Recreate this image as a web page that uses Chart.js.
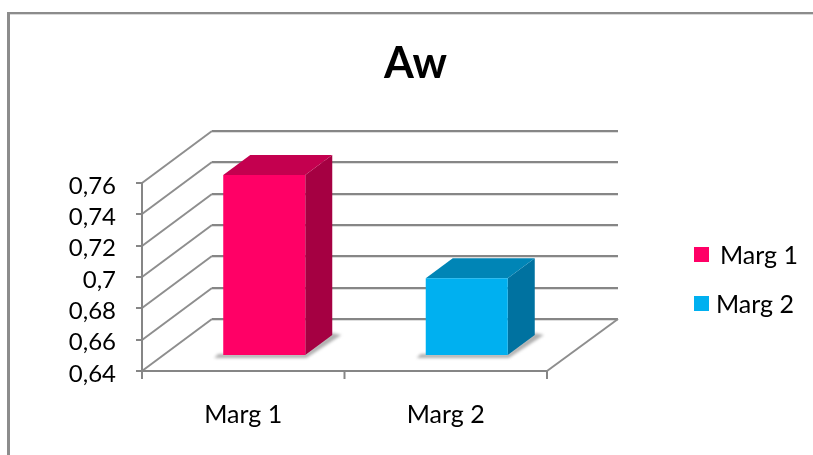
<!DOCTYPE html>
<html>
<head>
<meta charset="utf-8">
<title>Aw</title>
<script src="https://cdn.jsdelivr.net/npm/chart.js@4"></script>
<style>
    html, body { margin: 0; padding: 0; background: #fff; }
    #frame { position: absolute; left: 7px; top: 12px; width: 806px; height: 443px; box-sizing: border-box;
             border-left: 3px solid #8c8c8c; border-top: 2px solid #8c8c8c; box-shadow: inset 0 1px 0 #d9d9d9; }
    #myChart { position: absolute; left: 0; top: 0; }
</style>
</head>
<body>
<div id="frame"></div>
<canvas id="myChart" width="813" height="455"></canvas>
<script>
var categories = ["Marg 1", "Marg 2"];
var values = [0.755, 0.689];
var yTickLabels = ["0,64", "0,66", "0,68", "0,7", "0,72", "0,74", "0,76"];
var frontColors = ["#FF0066", "#00B0F0"];
var sideColors = ["#A50042", "#0072A0"];
var topColors = ["#C4004F", "#0085B6"];
var titleText = "Aw";

var fontName = "Lato";
var lineColor = "#868686";

// how far the back wall sits from the front plane, and the bars inside that depth
var wallDx = 70, wallDy = -52;
var barDx = 21, barDy = -16;
var depthDx = 27, depthDy = -20;

function line(ctx, x1, y1, x2, y2, color, width) {
    ctx.strokeStyle = color;
    ctx.lineWidth = width;
    ctx.beginPath();
    ctx.moveTo(x1, y1);
    ctx.lineTo(x2, y2);
    ctx.stroke();
}

function poly(ctx, points, color) {
    ctx.fillStyle = color;
    ctx.beginPath();
    ctx.moveTo(points[0][0], points[0][1]);
    for (var i = 1; i < points.length; i++) {
        ctx.lineTo(points[i][0], points[i][1]);
    }
    ctx.closePath();
    ctx.fill();
}

var box3d = {
    id: "box3d",
    afterLayout: function(chart) {
        // title is centred over the whole canvas, not over the plot
        chart.titleBlock.left = 18;
        chart.titleBlock.right = chart.width;
        // digits sit a little high in this font, nudge the value labels down
        var yScale = chart.scales.y;
        if (!yScale.nudged) {
            var drawLabels = yScale.drawLabels;
            yScale.drawLabels = function(area) {
                chart.ctx.save();
                chart.ctx.translate(0, 3);
                drawLabels.call(yScale, area);
                chart.ctx.restore();
            };
            yScale.nudged = true;
        }
    },
    beforeDatasetsDraw: function(chart) {
        var ctx = chart.ctx;
        var area = chart.chartArea;
        var yScale = chart.scales.y;
        var catW = area.width / categories.length;

        ctx.save();
        // back wall and side wall lines, one per tick
        yScale.ticks.forEach(function(tick) {
            var y = Math.round(yScale.getPixelForValue(tick.value));
            var by = Math.round(yScale.getPixelForValue(tick.value) + wallDy);
            line(ctx, area.left + wallDx, by + 1.5, area.right + wallDx + 1, by + 1.5, "#dedede", 1);
            line(ctx, area.left + wallDx, by, area.right + wallDx + 1, by, lineColor, 2);
            line(ctx, area.left, y, area.left + wallDx, by, "#8e8e8e", 2);
            line(ctx, area.left - 6, y, area.left, y, lineColor, 2);
        });
        // floor edges and axes
        var bottom = Math.round(area.bottom);
        line(ctx, area.right, bottom, area.right + wallDx + 1, bottom + wallDy, "#8e8e8e", 2);
        line(ctx, area.left, bottom, area.right, bottom, lineColor, 2);
        line(ctx, area.left, Math.round(yScale.getPixelForValue(0.76)) - 1, area.left, bottom + 7, lineColor, 2);
        for (var i = 0; i <= categories.length; i++) {
            var tx = area.left + i * catW;
            line(ctx, tx, bottom, tx, bottom + 8, lineColor, 2);
        }

        // soft shadow, then the side and top faces of each bar
        chart.getDatasetMeta(0).data.forEach(function(bar, i) {
            var l = bar.x - bar.width / 2 + barDx;
            var r = bar.x + bar.width / 2 + barDx;
            var t = bar.y + barDy;
            var b = bar.base + barDy;
            ctx.save();
            ctx.filter = "blur(1.5px)";
            poly(ctx, [[l - 9, b + 3], [r + 1, b + 3], [r + depthDx + 9, b + depthDy], [r + depthDx, b + depthDy - 2], [r, b - 1], [l - 5, b - 1]], "rgba(110,110,110,0.55)");
            ctx.restore();
            poly(ctx, [[r, t], [r + depthDx, t + depthDy], [r + depthDx, b + depthDy], [r, b]], sideColors[i]);
            poly(ctx, [[l, t], [l + depthDx, t + depthDy], [r + depthDx, t + depthDy], [r, t]], topColors[i]);
        });
        ctx.restore();

        // front faces are drawn by the bar controller, pushed back into the box
        ctx.save();
        ctx.translate(barDx, barDy);
    },
    afterDatasetsDraw: function(chart) {
        chart.ctx.restore();
    },
    afterDraw: function(chart) {
        // legend, one row per category
        var ctx = chart.ctx;
        var rows = [[694, 247, 720, 256], [694, 296, 716, 305]];
        ctx.save();
        ctx.font = "25px " + fontName;
        ctx.textBaseline = "middle";
        ctx.textAlign = "left";
        categories.forEach(function(name, i) {
            ctx.fillStyle = frontColors[i];
            ctx.fillRect(rows[i][0], rows[i][1], 15, 15);
            ctx.fillStyle = "#000";
            ctx.fillText(name, rows[i][2], rows[i][3]);
        });
        ctx.restore();
    }
};

var chart = new Chart(document.getElementById("myChart"), {
    type: "bar",
    data: {
        labels: categories,
        datasets: [{
            label: titleText,
            data: values,
            base: 0.64,
            backgroundColor: frontColors,
            borderWidth: 0,
            barPercentage: 0.405,
            categoryPercentage: 1
        }]
    },
    options: {
        responsive: false,
        animation: false,
        layout: { padding: { left: 18, right: 266, top: 0, bottom: 0 } },
        plugins: {
            legend: { display: false },
            tooltip: { enabled: false },
            title: {
                display: true,
                text: titleText,
                color: "#000",
                font: { family: fontName, size: 43, weight: "bold" },
                padding: { top: 38, bottom: 93.5 }
            }
        },
        scales: {
            x: {
                grid: { display: false, drawTicks: false },
                border: { display: false },
                ticks: { color: "#000", font: { family: fontName, size: 25 }, padding: 29 },
                afterFit: function(scale) { scale.height = 84; }
            },
            y: {
                min: 0.64,
                max: 0.76,
                grid: { display: false, drawTicks: false },
                border: { display: false },
                ticks: {
                    stepSize: 0.02,
                    autoSkip: false,
                    color: "#000",
                    font: { family: fontName, size: 24 },
                    padding: 26,
                    callback: function(value, index) { return yTickLabels[index]; }
                },
                afterFit: function(scale) { scale.width = 124; }
            }
        }
    },
    plugins: [box3d]
});
</script>
</body>
</html>
